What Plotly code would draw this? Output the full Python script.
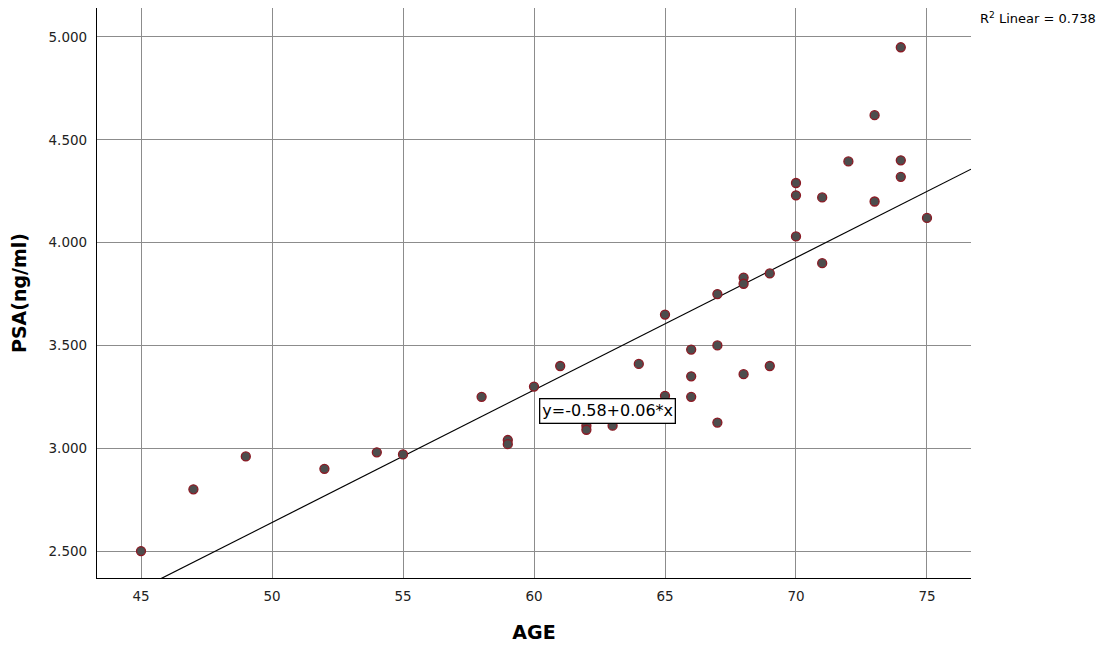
import numpy as np
import plotly.graph_objects as go

age = [45, 47, 49, 52, 54, 55, 58, 59, 59, 60, 61, 62, 62, 63, 64, 65, 65,
       66, 66, 66, 67, 67, 67, 68, 68, 68, 69, 69, 70, 70, 70, 71, 71, 72,
       73, 73, 74, 74, 74, 75]
psa = [2.50, 2.80, 2.96, 2.90, 2.98, 2.97, 3.25, 3.04, 3.02, 3.30, 3.40, 3.11, 3.09, 3.11, 3.41, 3.65, 3.255,
       3.48, 3.35, 3.25, 3.75, 3.50, 3.125, 3.83, 3.80, 3.36, 3.85, 3.40, 4.29, 4.23, 4.03, 4.22, 3.90, 4.395,
       4.62, 4.20, 4.95, 4.40, 4.32, 4.12]

fit_intercept = -0.581
fit_slope = 0.0644
eq_text = "y=-0.58+0.06*x"
r2_text = "R<sup>2</sup> Linear = 0.738"

x_range = [43.32, 76.68]
y_range = [2.369, 5.141]
x_ticks = [45, 50, 55, 60, 65, 70, 75]
y_ticks = [2.5, 3.0, 3.5, 4.0, 4.5, 5.0]

line_x = np.array(x_range)
line_y = fit_intercept + fit_slope * line_x

fig = go.Figure()
fig.add_trace(go.Scatter(x=line_x, y=line_y, mode="lines",
                         line=dict(color="black", width=1.2), hoverinfo="skip"))
fig.add_trace(go.Scatter(x=age, y=psa, mode="markers",
                         marker=dict(size=9, color="#4d4d4d",
                                     line=dict(color="#8b1a24", width=1.3))))

fig.add_annotation(x=62.82, y=3.181, text=eq_text, showarrow=False,
                   font=dict(family="DejaVu Sans", size=16, color="black"),
                   bgcolor="white", bordercolor="black", borderwidth=1.3, borderpad=2)
fig.add_annotation(x=1.145, y=1.0, xref="paper", yref="paper", text=r2_text, showarrow=False,
                   xanchor="right", yanchor="top",
                   font=dict(family="DejaVu Sans", size=13, color="black"))

axis_font = dict(family="DejaVu Sans", size=13.5, color="#222222")
title_font = dict(family="DejaVu Sans", size=19, color="black")
fig.update_layout(
    width=1097, height=638,
    margin=dict(l=89, r=134, t=0, b=68, autoexpand=False),
    paper_bgcolor="white", plot_bgcolor="white",
    showlegend=False,
    xaxis=dict(range=x_range, tickvals=x_ticks, showgrid=True, gridcolor="#8c8c8c", gridwidth=1.3,
               showline=True, linecolor="black", linewidth=1.2, zeroline=False, ticks="",
               tickfont=axis_font, automargin=False, ticklabelstandoff=6,
               title=dict(text="<b>AGE</b>", font=title_font, standoff=22)),
    yaxis=dict(range=y_range, tickvals=y_ticks, tickformat=".3f", showgrid=True, gridcolor="#8c8c8c", gridwidth=1.3,
               showline=True, linecolor="black", linewidth=1.2, zeroline=False, ticks="",
               tickfont=axis_font, automargin=False, ticklabelstandoff=6,
               title=dict(text="<b>PSA(ng/ml)</b>", font=title_font, standoff=18)),
)
fig.write_html("out.html")
